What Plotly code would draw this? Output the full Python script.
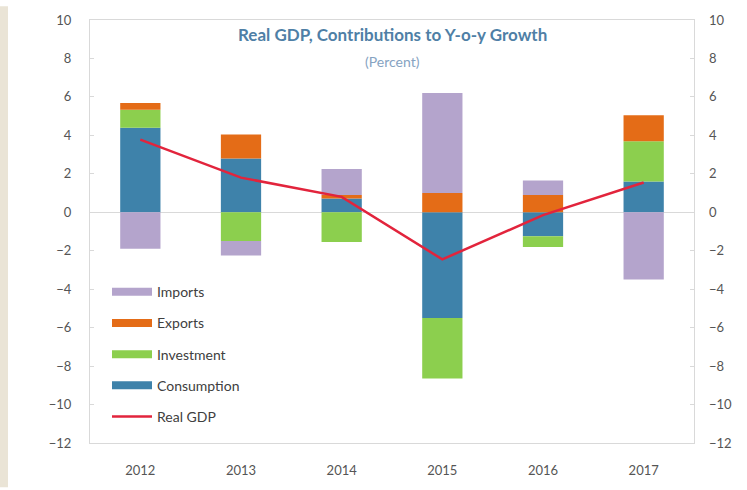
import plotly.graph_objects as go

# Contributions to real GDP growth, percentage points
years = ["2012", "2013", "2014", "2015", "2016", "2017"]
consumption = [4.4, 2.8, 0.72, -5.5, -1.25, 1.6]
investment = [0.93, -1.5, -1.55, -3.15, -0.55, 2.1]
exports = [0.35, 1.25, 0.18, 1.0, 0.9, 1.35]
imports = [-1.9, -0.75, 1.35, 5.2, 0.75, -3.5]
real_gdp = [3.78, 1.8, 0.8, -2.45, -0.15, 1.55]

y_ticks = [10, 8, 6, 4, 2, 0, -2, -4, -6, -8, -10, -12]

colors = {
    "Consumption": "#3E82AA",
    "Investment": "#8CCF4E",
    "Exports": "#E46C17",
    "Imports": "#B4A4CC",
    "Real GDP": "#E2243C",
}

FONT = "Lato, 'Open Sans', sans-serif"
TEXT = "#555555"
FRAME = "#D9D9D9"

L, R, T, B = 90, 53, 14, 45
PW, PH = 747 - L - R, 490 - T - B

fig = go.Figure()

# stacked bars: trace order sets stacking order on each side of zero
series = [("Consumption", consumption), ("Investment", investment),
          ("Exports", exports), ("Imports", imports)]
for name, vals in series:
    fig.add_trace(go.Bar(
        x=years, y=vals, name=name, marker_color=colors[name],
        marker_line_width=0, width=0.4, showlegend=False,
    ))

fig.add_trace(go.Scatter(
    x=years, y=real_gdp, name="Real GDP", mode="lines",
    line=dict(color=colors["Real GDP"], width=2.5), showlegend=False,
))

# legend entries drawn as wide swatches
legend_order = ["Imports", "Exports", "Investment", "Consumption", "Real GDP"]
for rank, name in enumerate(legend_order):
    fig.add_trace(go.Scatter(
        x=[None], y=[None], mode="lines", name=name,
        line=dict(color=colors[name], width=2.5 if name == "Real GDP" else 8),
        legendgroup=name, legendrank=rank + 1, hoverinfo="skip",
    ))

# invisible trace so the right-hand axis is drawn
fig.add_trace(go.Scatter(x=[years[0]], y=[0], yaxis="y2", mode="markers",
                         marker=dict(opacity=0), showlegend=False,
                         hoverinfo="skip"))

axis_font = dict(family=FONT, size=13, color=TEXT)

fig.update_layout(
    width=747, height=490,
    margin=dict(l=L, r=R, t=T, b=B),
    paper_bgcolor="white", plot_bgcolor="white",
    barmode="relative",
    font=dict(family=FONT, color=TEXT),
    xaxis=dict(
        showline=True, linecolor=FRAME, linewidth=1, mirror=True,
        ticks="", tickfont=axis_font, showgrid=False, zeroline=False,
        ticklabelstandoff=15,
    ),
    yaxis=dict(
        range=[-12, 10], tickvals=y_ticks, tickfont=axis_font,
        showline=True, linecolor=FRAME, linewidth=1, mirror=True,
        ticks="inside", ticklen=4, tickcolor=FRAME,
        showgrid=False, zeroline=True, zerolinecolor=FRAME, zerolinewidth=1,
        ticklabelstandoff=15,
    ),
    yaxis2=dict(
        range=[-12, 10], tickvals=y_ticks, tickfont=axis_font,
        overlaying="y", side="right", showgrid=False, zeroline=False,
        ticks="inside", ticklen=4, tickcolor=FRAME, showline=False,
        ticklabelstandoff=14,
    ),
    legend=dict(
        x=(107 - L) / PW, y=(490 - B - 275) / PH, xanchor="left", yanchor="top",
        bgcolor="rgba(0,0,0,0)", font=dict(family=FONT, size=14, color="#404040"),
        itemwidth=40, tracegroupgap=10, itemclick=False,
    ),
    annotations=[
        dict(text="<b>Real GDP, Contributions to Y-o-y Growth</b>",
             xref="paper", yref="paper", x=0.5, y=1 - (29 - T) / PH,
             xanchor="center", yanchor="middle", showarrow=False,
             font=dict(family=FONT, size=17, color="#4F7FA6")),
        dict(text="(Percent)",
             xref="paper", yref="paper", x=0.5, y=1 - (56 - T) / PH,
             xanchor="center", yanchor="middle", showarrow=False,
             font=dict(family=FONT, size=14, color="#86A3C2")),
    ],
    shapes=[
        dict(type="rect", xref="paper", yref="paper",
             x0=-L / PW, x1=-(L - 8) / PW, y0=-B / PH, y1=1 + T / PH,
             fillcolor="#EAE4D6", line_width=0, layer="below"),
    ],
)

fig.write_html("out.html")
